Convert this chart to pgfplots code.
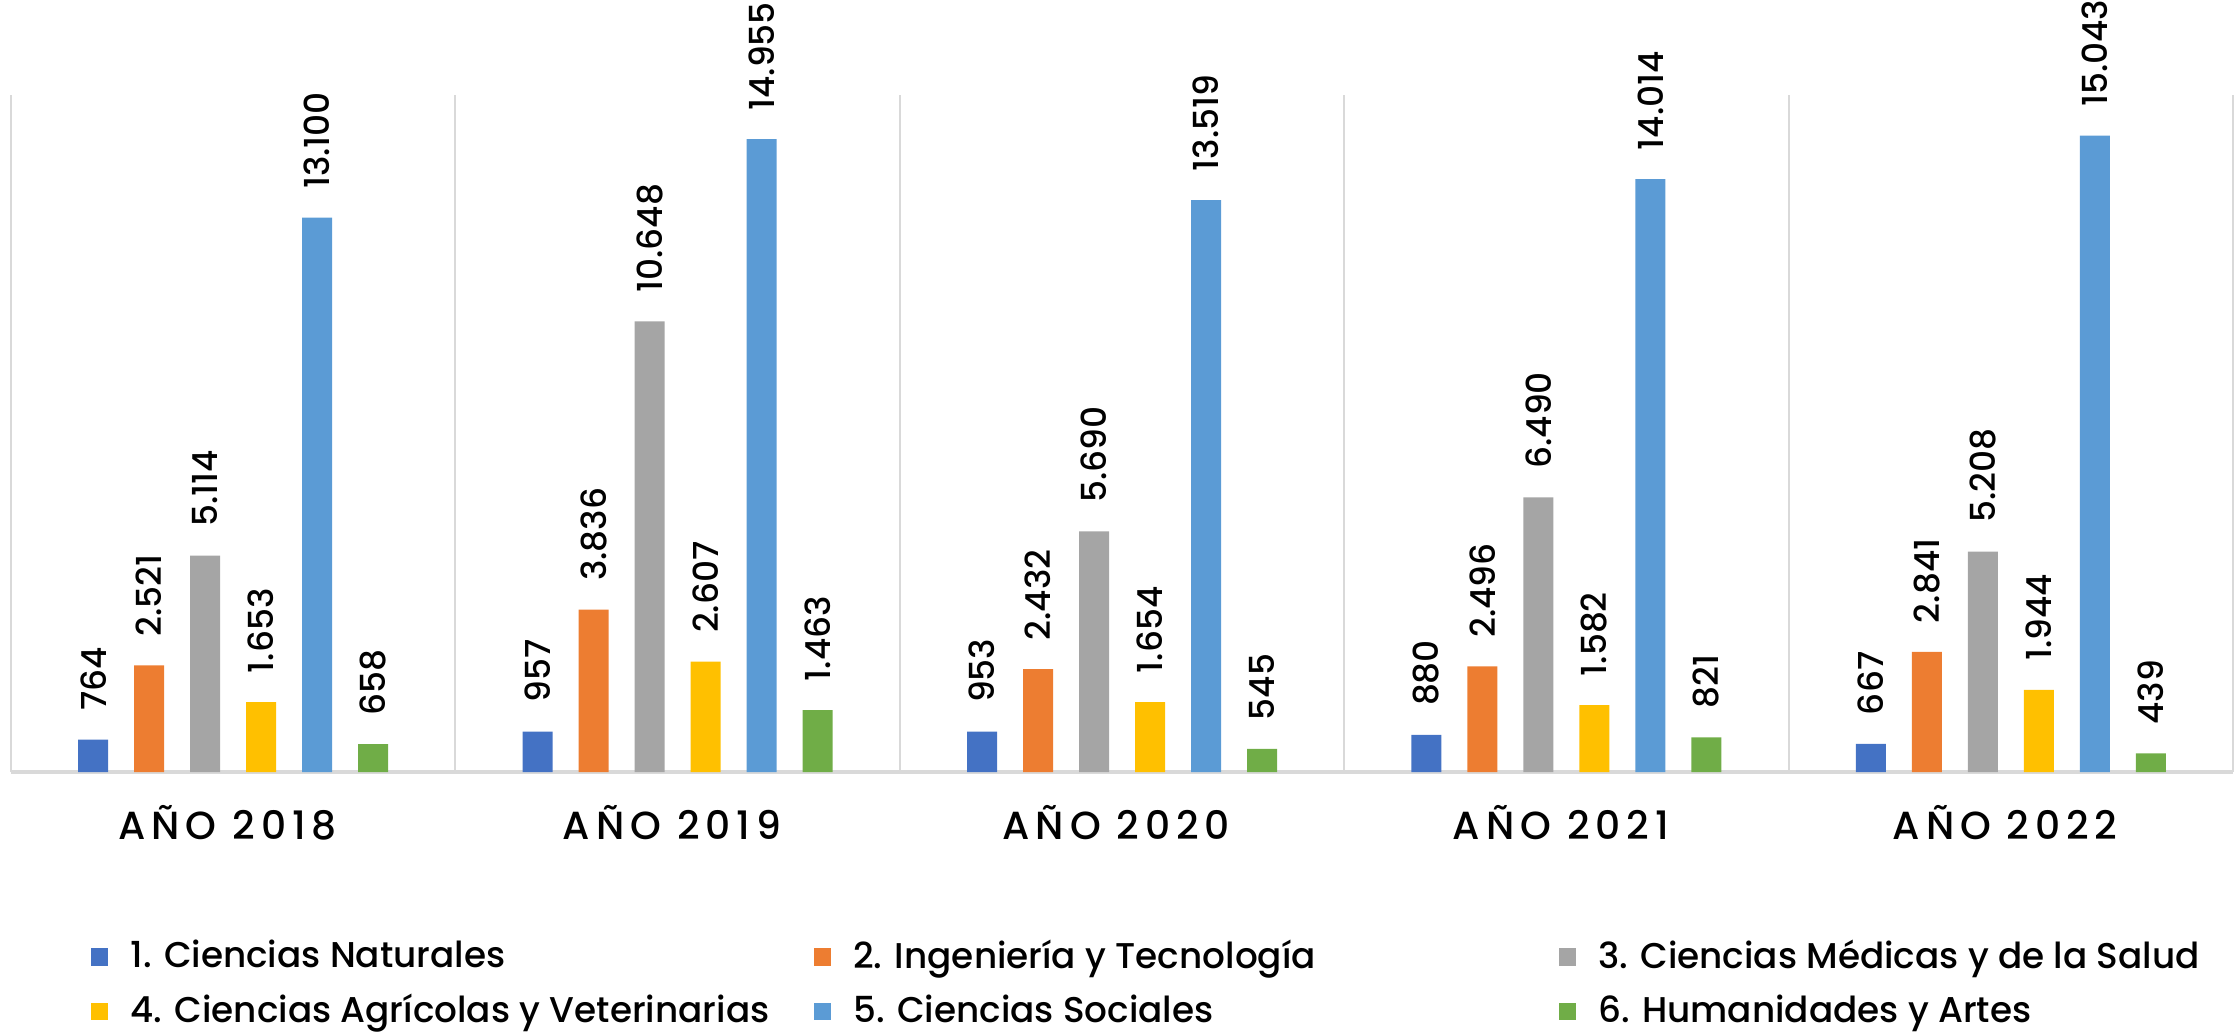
\documentclass[border=0pt]{standalone}
\usepackage{pgfplots}
\pgfplotsset{compat=1.18}
\usepackage{fontspec}
\setmainfont{Poppins}[UprightFont={* Medium}]
\newfontfamily\catfont{Poppins}[UprightFont={* Medium}, LetterSpace=15]

\definecolor{c1}{HTML}{4472C4}
\definecolor{c2}{HTML}{ED7D31}
\definecolor{c3}{HTML}{A5A5A5}
\definecolor{c4}{HTML}{FFC000}
\definecolor{c5}{HTML}{5B9BD5}
\definecolor{c6}{HTML}{70AD47}
\definecolor{gridgray}{HTML}{D9D9D9}

\begin{document}
\begin{tikzpicture}
\begin{axis}[
    scale only axis,
    width=555.5pt, height=169.25pt,
    xmin=-0.5, xmax=4.5,
    ymin=0, ymax=16000,
    ybar=6.5pt, bar width=7.5pt,
    axis x line=bottom, axis y line=none,
    x axis line style={-, draw=gridgray, line width=0.8pt},
    xtick={0,...,4},
    xticklabels={AÑO 2018, AÑO 2019, AÑO 2020, AÑO 2021, AÑO 2022},
    major tick length=0pt,
    minor xtick={-0.5,0.5,...,4.5},
    minor tick length=0pt,
    xminorgrids,
    minor grid style={draw=gridgray, line width=0.5pt},
    ytick=\empty,
    xticklabel style={font=\catfont\fontsize{9.8}{10}\selectfont, yshift=-4.8pt, xshift=-1.4pt},
    clip=false,
    nodes near coords,
    /pgf/number format/.cd, fixed, precision=0, 1000 sep={.}, assume math mode=true,
    /pgfplots/.cd,
    nodes near coords style={rotate=90, anchor=west, inner xsep=7pt, inner ysep=0pt,
        font=\fontsize{8.6}{9}\selectfont, text=black},
    legend image code/.code={\draw[#1, draw=none] (0pt,-2.2pt) rectangle (4.4pt,2.2pt);},
    legend cell align=left,
    legend style={draw=none, fill=none, legend columns=3,
        at={(0.0302,-0.235)}, anchor=north west,
        font=\fontsize{8.95}{9.5}\selectfont,
        column sep=0pt, row sep=5pt,
        /tikz/every odd column/.style={column sep=5.5pt},
        nodes={inner sep=0pt}},
]
\addplot[fill=c1, draw=none] coordinates {(0,764) (1,957) (2,953) (3,880) (4,667)};
\addlegendentry{\makebox[170.8pt][l]{1. Ciencias Naturales}}
\addplot[fill=c2, draw=none] coordinates {(0,2521) (1,3836) (2,2432) (3,2496) (4,2841)};
\addlegendentry{\makebox[176.3pt][l]{2. Ingeniería y Tecnología}}
\addplot[fill=c3, draw=none] coordinates {(0,5114) (1,10648) (2,5690) (3,6490) (4,5208)};
\addlegendentry{3. Ciencias Médicas y de la Salud}
\addplot[fill=c4, draw=none] coordinates {(0,1653) (1,2607) (2,1654) (3,1582) (4,1944)};
\addlegendentry{\makebox[170.8pt][l]{4. Ciencias Agrícolas y Veterinarias}}
\addplot[fill=c5, draw=none] coordinates {(0,13100) (1,14955) (2,13519) (3,14014) (4,15043)};
\addlegendentry{\makebox[176.3pt][l]{5. Ciencias Sociales}}
\addplot[fill=c6, draw=none] coordinates {(0,658) (1,1463) (2,545) (3,821) (4,439)};
\addlegendentry{6. Humanidades y Artes}
\end{axis}
\pgfresetboundingbox
\path (current axis.south west) ++(-2.75pt,-65.25pt) rectangle ++(558.5pt,258.25pt);
\end{tikzpicture}
\end{document}
